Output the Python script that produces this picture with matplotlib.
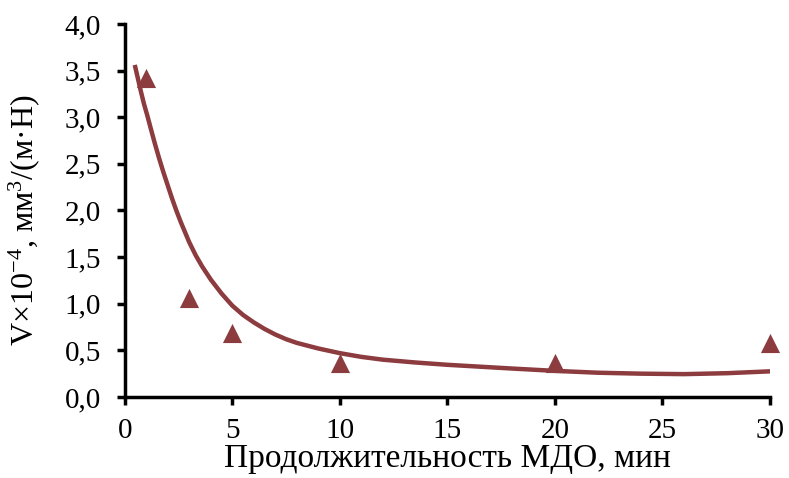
import numpy as np
import matplotlib
matplotlib.use('Agg')
import matplotlib.pyplot as plt
from matplotlib.ticker import FuncFormatter, MultipleLocator

plt.rcParams['font.family'] = ['Liberation Serif', 'DejaVu Serif']
plt.rcParams['mathtext.fontset'] = 'custom'
plt.rcParams['mathtext.rm'] = 'Liberation Serif'
plt.rcParams['mathtext.it'] = 'Liberation Serif:italic'

# measured points
t_points = [1, 3, 5, 10, 20, 30]
v_points = [3.42, 1.06, 0.69, 0.36, 0.36, 0.58]

# trend line
t_curve = [0.47, 0.6, 0.75, 0.9, 1.05, 1.2, 1.4, 1.6, 1.8, 2.0, 2.2, 2.4, 2.6,
           2.8, 3.0, 3.3, 3.6, 4.0, 4.5, 5.0, 5.5, 6.0, 6.5, 7.0, 7.5, 8.0,
           9.0, 10.0, 11.0, 12.0, 13.5, 15.0, 16.5, 18.0, 20.0, 22.0, 24.0,
           26.0, 28.0, 30.0]
v_curve = [3.56, 3.43, 3.28, 3.14, 3.02, 2.89, 2.72, 2.56, 2.41, 2.27, 2.13, 2.00, 1.88,
           1.77, 1.66, 1.52, 1.40, 1.26, 1.11, 0.98, 0.88, 0.80, 0.73, 0.67, 0.62, 0.58,
           0.52, 0.47, 0.43, 0.40, 0.37, 0.345, 0.325, 0.305, 0.28, 0.26, 0.25,
           0.245, 0.255, 0.275]

color = '#8C3B3F'

fig = plt.figure(figsize=(7.89, 4.78), dpi=100)
ax = fig.add_axes([0.158, 0.1695, 0.818, 0.7805])

ax.plot(t_curve, v_curve, color=color, lw=3.2, solid_capstyle='butt', solid_joinstyle='round')
ax.scatter(t_points, v_points, marker='^', s=190, color=color, zorder=3, clip_on=False, linewidths=0)

ax.set_xlim(0, 30)
ax.set_ylim(0, 4.0)
ax.xaxis.set_major_locator(MultipleLocator(5))
ax.yaxis.set_major_locator(MultipleLocator(0.5))
ax.yaxis.set_major_formatter(FuncFormatter(lambda v, p: f'{v:.1f}'.replace('.', ',')))

for s in ['top', 'right']:
    ax.spines[s].set_visible(False)
for s in ['left', 'bottom']:
    ax.spines[s].set_linewidth(2.5)
ax.tick_params(direction='out', length=6, width=2.5, labelsize=21)
ax.tick_params(axis='x', pad=9)
ax.tick_params(axis='y', pad=11)

ax.set_xlabel('Продолжительность МДО, мин', fontsize=24, labelpad=0)
ax.set_ylabel(r'V×10$^{-4}$, мм$^{3}$/(м·Н)', fontsize=23)
ax.yaxis.set_label_coords(-0.128, 0.475)

fig.savefig('out.png', dpi=100)
